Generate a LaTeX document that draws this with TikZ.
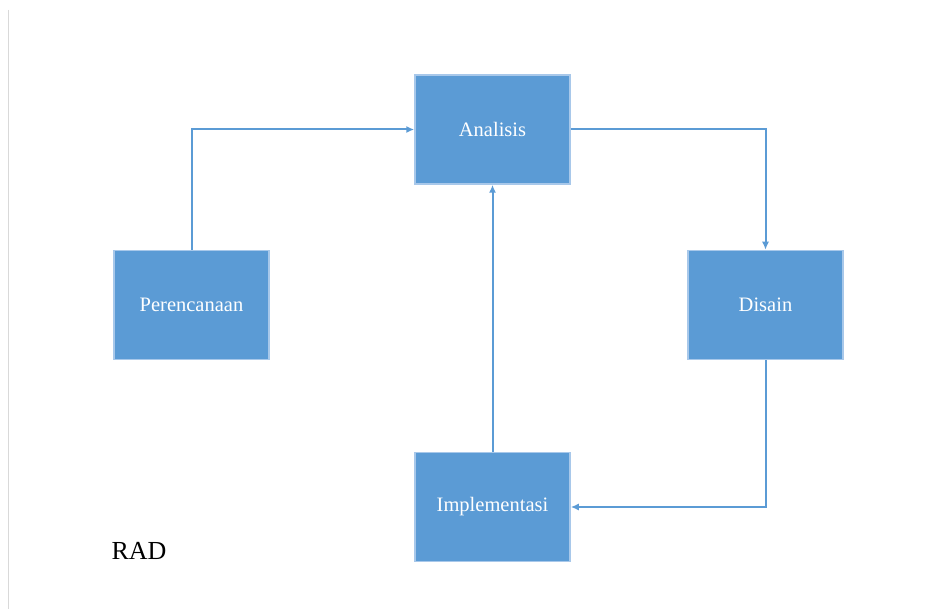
\documentclass[tikz,border=0pt]{standalone}
\usepackage{fontspec}
\setmainfont{Liberation Serif}
\newfontfamily\labelserif{Liberation Serif}
\usetikzlibrary{arrows.meta}
\definecolor{boxblue}{HTML}{5B9BD5}
\definecolor{boxedge}{HTML}{A8C8EA}
\definecolor{linkblue}{HTML}{5B9BD5}
\tikzset{
  stage/.style={draw=boxedge, line width=1.5pt, fill=boxblue, minimum width=155pt, minimum height=109pt,
    inner sep=0pt, text=white, font=\labelserif\fontsize{20.5}{24}\selectfont},
  link/.style={draw=linkblue, line width=2pt, -{Latex[length=8pt,width=7pt]}}
}
\begin{document}
\begin{tikzpicture}[x=1pt,y=-1pt]
\useasboundingbox[fill=white] (0,0) rectangle (942,609);
\draw[gray!30, line width=1pt] (8,10) -- (8,609);
\node[stage] (ana) at (492.5,129.5) {Analisis};
\node[stage] (per) at (191.5,305) {Perencanaan};
\node[stage] (dis) at (765.5,305) {Disain};
\node[stage] (imp) at (492.5,507) {Implementasi};
\node[font=\labelserif\fontsize{26}{30}\selectfont, anchor=west] (rad) at (108,551) {RAD};
\draw[link] (per.north) |- (ana.west);
\draw[link] (ana.east) -| (dis.north);
\draw[link] (dis.south) |- (imp.east);
\draw[link] (imp.north) -- (ana.south);
\end{tikzpicture}
\end{document}
